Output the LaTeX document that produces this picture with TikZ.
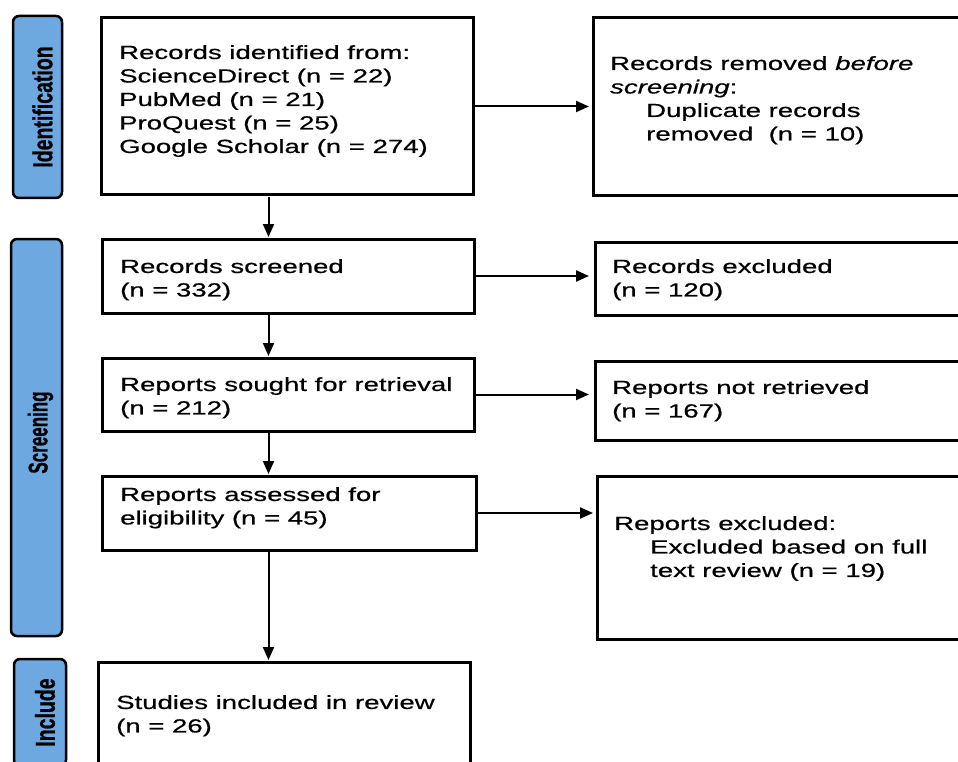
\documentclass[tikz,border=0pt]{standalone}
\usepackage{fontspec}
\setmainfont{Liberation Sans}[FakeStretch=1.45,FakeBold=0.6]
\newfontfamily\phasefont{Liberation Sans}[FakeBold=1]
\usetikzlibrary{arrows.meta}
\usetikzlibrary{calc}
\definecolor{phaseblue}{RGB}{110,168,225}
\tikzset{box/.style={draw=#1,line width=3pt,inner sep=0pt,outer sep=0pt,anchor=north west},box/.default=black}
\tikzset{phase/.style={draw=black,fill=#1,line width=2.5pt,rounded corners=6pt,inner sep=0pt,outer sep=0pt,anchor=north west},phase/.default=phaseblue}
\tikzset{words/.style={anchor=north west,inner sep=0pt,align=left,font=\fontsize{19}{23.5}\selectfont}}
\tikzset{phaselabel/.style={rotate=90,inner sep=0pt,font=\phasefont\bfseries\fontsize{#1}{#1}\selectfont},phaselabel/.default=19.5}
\tikzset{flow/.style={line width=2pt,-{Triangle[length=13pt,width=11pt]},shorten <=2pt,shorten >=#1},flow/.default=2pt}

\begin{document}
\begin{tikzpicture}[x=1pt,y=-1pt]
	\useasboundingbox (0,0) rectangle (958,762);
	\clip (0,0) rectangle (958,762);

	% phase bars on the left
	\node [phase,minimum width=49pt,minimum height=182pt] (identification) at (13,16) {};
	\node [phase,minimum width=51pt,minimum height=397pt] (screening) at (11,239) {};
	\node [phase,minimum width=52pt,minimum height=107pt] (include) at (14,659) {};
	\node [phaselabel] (identificationtext) at ([xshift=5pt]identification.center) {\scalebox{1}[1.4]{Identification}};
	\node [phaselabel=17] (screeningtext) at ([xshift=4pt,yshift=5pt]screening.center) {\scalebox{1}[1.6]{Screening}};
	\node [phaselabel] (includetext) at ([xshift=5pt]include.center) {\scalebox{1}[1.4]{Include}};

	% main column
	\node [box,minimum width=372pt,minimum height=177pt] (identified) at (101,18) {};
	\node [box,minimum width=372pt,minimum height=74pt] (screened) at (102,239) {};
	\node [box,minimum width=372pt,minimum height=73pt] (sought) at (102,358) {};
	\node [box,minimum width=374pt,minimum height=74pt] (assessed) at (102,476) {};
	\node [box,minimum width=372pt,minimum height=140pt] (included) at (98,662) {};

	% side column
	\node [box,minimum width=400pt,minimum height=178pt] (duplicates) at (593,18) {};
	\node [box,minimum width=400pt,minimum height=73pt] (excluded) at (595,242) {};
	\node [box,minimum width=400pt,minimum height=79pt] (notretrieved) at (595,361) {};
	\node [box,minimum width=400pt,minimum height=163pt] (reportsexcluded) at (597,476) {};

	% texts
	\node [words] (identifiedtext) at ([shift={(18,27)}]identified.north west) {Records identified from:\\ScienceDirect (n = 22)\\PubMed (n = 21)\\ProQuest (n = 25)\\Google Scholar (n = 274)};
	\node [words] (screenedtext) at ([shift={(18,20)}]screened.north west) {Records screened\\(n = 332)};
	\node [words] (soughttext) at ([shift={(18,19)}]sought.north west) {Reports sought for retrieval\\(n = 212)};
	\node [words] (assessedtext) at ([shift={(18,11)}]assessed.north west) {Reports assessed for\\eligibility (n = 45)};
	\node [words] (includedtext) at ([shift={(18,33)}]included.north west) {Studies included in review\\(n = 26)};
	\node [words] (duplicatestext) at ([shift={(17,38)}]duplicates.north west) {Records removed \textit{before}\\\textit{screening}:\\\hspace*{36pt}Duplicate records\\\hspace*{36pt}removed\ \ (n = 10)};
	\node [words] (excludedtext) at ([shift={(17,17)}]excluded.north west) {Records excluded\\(n = 120)};
	\node [words] (notretrievedtext) at ([shift={(17,19)}]notretrieved.north west) {Reports not retrieved\\(n = 167)};
	\node [words] (reportsexcludedtext) at ([shift={(17,40)}]reportsexcluded.north west) {Reports excluded:\\\hspace*{36pt}Excluded based on full\\\hspace*{36pt}text review (n = 19)};

	% arrows
	\coordinate (spine) at (268.5,0);
	\draw [flow] (identified.south -| spine) -- (screened.north -| spine);
	\draw [flow] (screened.south -| spine) -- (sought.north -| spine);
	\draw [flow] (sought.south -| spine) -- (assessed.north -| spine);
	\draw [flow] (assessed.south -| spine) -- (included.north -| spine);
	\draw [flow=4pt] (identified.east) -- (identified.east -| duplicates.west);
	\draw [flow=6pt] (screened.east) -- (screened.east -| excluded.west);
	\draw [flow=6pt] (sought.east) -- (sought.east -| notretrieved.west);
	\draw [flow=4pt] (assessed.east) -- (assessed.east -| reportsexcluded.west);
\end{tikzpicture}
\end{document}
